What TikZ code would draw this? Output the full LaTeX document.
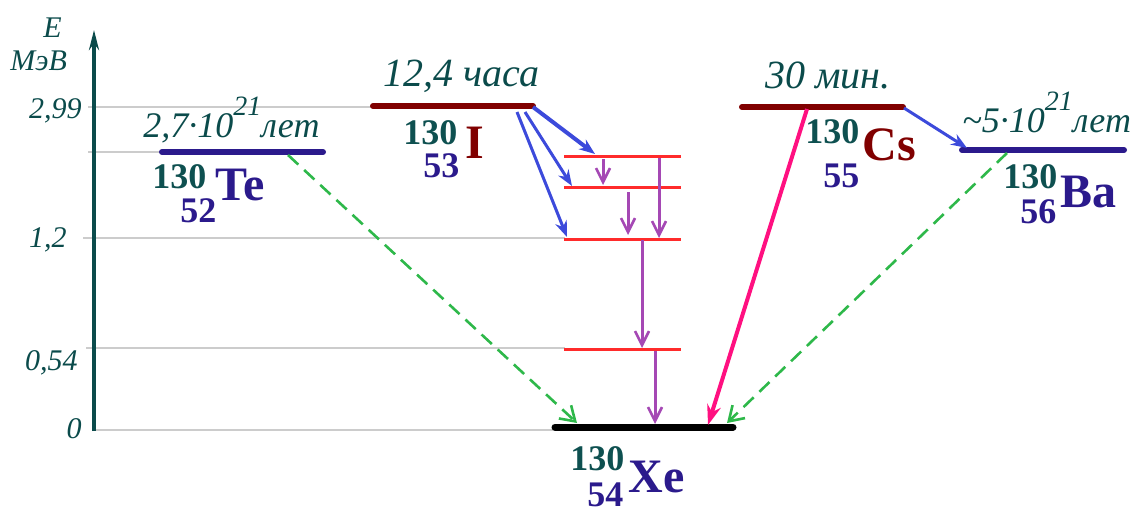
\documentclass[tikz,border=0pt]{standalone}
\usepackage{fontspec}
\setmainfont{Liberation Serif}[
  UprightFont = *,
  BoldFont = * Bold,
  ItalicFont = * Italic,
  BoldItalicFont = * Bold Italic]
\usetikzlibrary{arrows.meta}
\definecolor{color_axis}{HTML}{0B4B4B}
\definecolor{color_grid}{HTML}{CCCCCC}
\definecolor{color_mass}{HTML}{0E5050}
\definecolor{color_charge}{HTML}{2B1A8C}
\definecolor{color_parent}{HTML}{800000}
\definecolor{color_ground}{HTML}{000000}
\definecolor{color_beta}{HTML}{3C4ADB}
\definecolor{color_excited}{HTML}{FF2B2B}
\definecolor{color_gamma}{HTML}{A548B4}
\definecolor{color_capture}{HTML}{FF1080}
\definecolor{color_double}{HTML}{2EB84A}
\tikzset{
  grid_line/.style={draw=color_grid, line width=0.6pt},
  axis_line/.style={-{Stealth[length=10pt, width=5pt]}, draw=color_axis, line width=2pt},
  tick_label/.style={font=\fontsize{15}{15}\selectfont\itshape, text=color_axis, inner sep=0pt, anchor=base east},
  axis_label/.style={font=\fontsize{15}{15}\selectfont\itshape, text=color_axis, inner sep=0pt, anchor=base west},
  period_label/.style={font=\fontsize{20}{20}\selectfont\itshape, text=color_axis, inner sep=0pt, anchor=base west},
  life_label/.style={font=\fontsize{18}{18}\selectfont\itshape, text=color_axis, inner sep=0pt, anchor=base west},
  mass_label/.style={font=\fontsize{18}{18}\selectfont\bfseries, text=color_mass, inner sep=0pt, anchor=base west},
  charge_label/.style={font=\fontsize{18}{18}\selectfont\bfseries, text=color_charge, inner sep=0pt, anchor=base west},
  symbol_label/.style={font=\fontsize{24}{24}\selectfont\bfseries, text=#1, inner sep=0pt, anchor=base west},
  nucleus_level/.style={draw=#1, line width=3pt, line cap=round},
  excited_level/.style={draw=color_excited, line width=1.5pt},
  beta_arrow/.style={-{Stealth[length=8pt, width=6pt]}, draw=color_beta, line width=1.5pt},
  gamma_arrow/.style={-{Straight Barb[length=7pt, width=7pt, line width=1.3pt]}, draw=color_gamma, line width=1.5pt},
  capture_arrow/.style={-{Stealth[length=10pt, width=7pt]}, draw=color_capture, line width=2pt},
  double_arrow/.style={-{Straight Barb[length=7pt, width=9pt, line width=1.3pt]}, draw=color_double, line width=1.3pt, dash pattern=on 7pt off 4pt},
}
\newcommand{\supnum}[1]{\raisebox{11pt}{\fontsize{14}{14}\selectfont #1}}

\begin{document}
\begin{tikzpicture}[x=0.5pt, y=-0.5pt]
  \useasboundingbox (0,0) rectangle (1145,510);

  % energy axis and grid
  \draw[grid_line] (88,107) -- (373,107);
  \draw[grid_line] (88,152) -- (162,152);
  \draw[grid_line] (83,238) -- (565,238);
  \draw[grid_line] (86,348) -- (565,348);
  \draw[grid_line] (94,430) -- (555,430);
  \coordinate (axis_bot) at (94,431);
  \coordinate (axis_top) at (94,30);
  \draw[axis_line] (axis_bot) -- (axis_top);
  \node[axis_label] (axis_e)   at (43,37) {E};
  \node[axis_label] (axis_mev) at (10,70) {МэВ};
  \node[tick_label] (tick_299) at (82,118) {2,99};
  \node[tick_label] (tick_12)  at (67,247) {1,2};
  \node[tick_label] (tick_054) at (78,370) {0,54};
  \node[tick_label] (tick_0)   at (82,438) {0};

  % levels
  \coordinate (te_l) at (162,152);  \coordinate (te_r) at (323,152);
  \coordinate (i_l)  at (373,106);  \coordinate (i_r)  at (533,106);
  \coordinate (cs_l) at (742,107);  \coordinate (cs_r) at (903,107);
  \coordinate (ba_l) at (962,150);  \coordinate (ba_r) at (1124,150);
  \coordinate (xe_l) at (555,427);  \coordinate (xe_r) at (733,427);
  \draw[nucleus_level=color_charge] (te_l) -- (te_r);
  \draw[nucleus_level=color_parent] (i_l) -- (i_r);
  \draw[nucleus_level=color_parent] (cs_l) -- (cs_r);
  \draw[nucleus_level=color_charge] (ba_l) -- (ba_r);
  \draw[nucleus_level=color_ground, line width=3.5pt] (xe_l) -- (xe_r);
  \draw[excited_level] (564,156) -- (681,156);
  \draw[excited_level] (564,187) -- (681,187);
  \draw[excited_level] (564,239) -- (681,239);
  \draw[excited_level] (564,349) -- (681,349);

  % half-lives
  \node[life_label]   (te_period) at (143,137) {2,7·10\supnum{21}лет};
  \node[period_label] (i_period)  at (383,86)  {12,4 часа};
  \node[period_label] (cs_period) at (765,88)  {30 мин.};
  \node[life_label]   (ba_period) at (962,132) {\textasciitilde5·10\supnum{21}лет};

  % nuclides
  \node[mass_label]   (te_mass)   at (152,188) {130};
  \node[charge_label] (te_charge) at (180,222) {52};
  \node[symbol_label=color_charge] (te_symbol) at (215,200) {Te};
  \node[mass_label]   (i_mass)    at (403,144) {130};
  \node[charge_label] (i_charge)  at (423,177) {53};
  \node[symbol_label=color_parent] (i_symbol) at (465,158) {I};
  \node[mass_label]   (cs_mass)   at (805,143) {130};
  \node[charge_label] (cs_charge) at (823,187) {55};
  \node[symbol_label=color_parent] (cs_symbol) at (862,160) {Cs};
  \node[mass_label]   (ba_mass)   at (1003,188) {130};
  \node[charge_label] (ba_charge) at (1020,223) {56};
  \node[symbol_label=color_charge] (ba_symbol) at (1060,207) {Ba};
  \node[mass_label]   (xe_mass)   at (570,470) {130};
  \node[charge_label] (xe_charge) at (587,506) {54};
  \node[symbol_label=color_charge] (xe_symbol) at (628,492) {Xe};

  % transitions
  \coordinate (i_out1) at (533,107);  \coordinate (lev1_in) at (595,154);
  \coordinate (i_out2) at (525,112);  \coordinate (lev2_in) at (572,186);
  \coordinate (i_out3) at (517,112);  \coordinate (lev3_in) at (567,237);
  \draw[beta_arrow, line width=2pt] (i_out1) -- (lev1_in);
  \draw[beta_arrow] (i_out2) -- (lev2_in);
  \draw[beta_arrow] (i_out3) -- (lev3_in);
  \coordinate (cs_out) at (904,108);  \coordinate (ba_in) at (967,148);
  \draw[beta_arrow] (cs_out) -- (ba_in);
  \draw[gamma_arrow] (603,159) -- (603,185);
  \draw[gamma_arrow] (628,192) -- (628,235);
  \draw[gamma_arrow] (659,158) -- (659,238);
  \draw[gamma_arrow] (642,240) -- (642,348);
  \draw[gamma_arrow] (655,351) -- (655,424);
  \coordinate (cs_ec) at (807,109);  \coordinate (xe_ec) at (708,425);
  \draw[capture_arrow] (cs_ec) -- (xe_ec);
  \coordinate (te_bb) at (288,155);  \coordinate (xe_bb1) at (577,423);
  \coordinate (ba_bb) at (1007,153); \coordinate (xe_bb2) at (727,423);
  \draw[double_arrow] (te_bb) -- (xe_bb1);
  \draw[double_arrow] (ba_bb) -- (xe_bb2);
\end{tikzpicture}
\end{document}
